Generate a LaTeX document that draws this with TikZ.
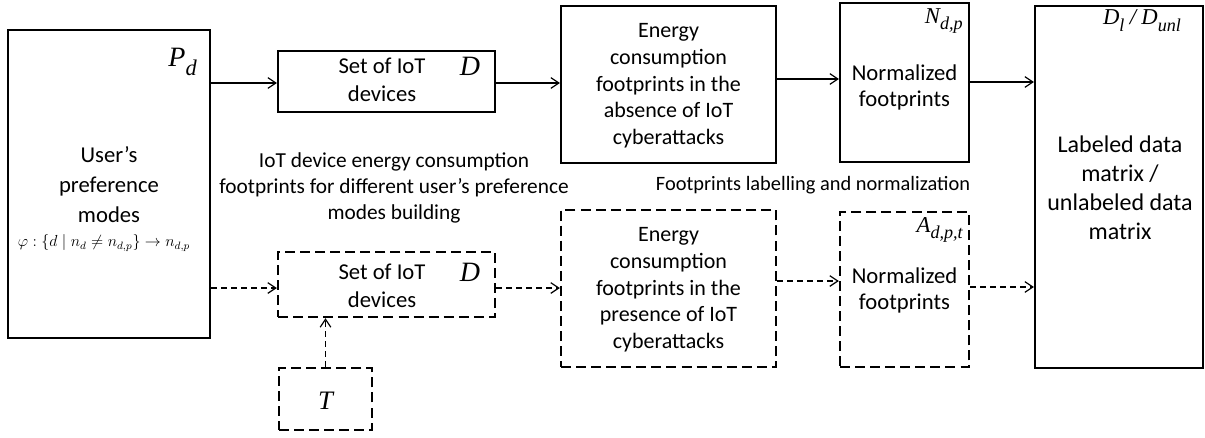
\documentclass[tikz,border=0pt]{standalone}
\usepackage{fontspec}
\setmainfont{Carlito}
\newfontfamily\tms{Liberation Serif}
\usetikzlibrary{arrows.meta}
% italic serif symbol, plain and with a lowered subscript
\newcommand\symp[2][20pt]{{\fontsize{#1}{#1}\tms\itshape #2}}
\newcommand\symb[3][20pt]{{\fontsize{#1}{#1}\tms\itshape #2\raisebox{-0.3em}{\fontsize{0.8\dimexpr#1\relax}{1em}\selectfont #3}}}
\tikzset{
  solidbox/.style={draw=black, line width=1.6pt, fill=white, inner sep=0pt},
  dashbox/.style={draw=black, line width=1.7pt, dash pattern=on 7.5pt off 3.8pt, inner sep=0pt},
  txt/.style={align=center, inner sep=0pt},
  fs/.style 2 args={font=\fontsize{#1}{#2}\selectfont},
  tip/.style={-{Straight Barb[length=6pt,width=8pt,line width=0.9pt]}},
  arr/.style={tip, line width=0.9pt},
  darr/.style={tip, line width=0.9pt, dash pattern=on 4.5pt off 3pt}
}
\begin{document}
\begin{tikzpicture}[x=0.75pt,y=-0.75pt]
\useasboundingbox (0,0) rectangle (1205,437);

% boxes
\node[solidbox, minimum width=151.5pt, minimum height=231pt] (U) at (109,184) {};
\node[solidbox, minimum width=162.75pt, minimum height=45.75pt] (S1) at (386.5,81.5) {};
\node[solidbox, minimum width=161.25pt, minimum height=117.75pt] (E1) at (668.5,84.5) {};
\node[solidbox, minimum width=96.75pt, minimum height=119.25pt] (N1) at (904.5,82.5) {};
\node[solidbox, minimum width=126pt, minimum height=271.5pt] (L) at (1119,187) {};
\node[dashbox, minimum width=162.75pt, minimum height=48.75pt] (S2) at (386.5,284.5) {};
\node[dashbox, minimum width=161.25pt, minimum height=117.75pt] (E2) at (668.5,288.5) {};
\node[dashbox, minimum width=96.75pt, minimum height=116.25pt] (N2) at (904.5,289.5) {};
\node[dashbox, minimum width=69.75pt, minimum height=46.5pt] (T) at (325.5,399) {};

% box texts
\node[txt, fs={17pt}{22.5pt}] (Ut) at (109,185) {User’s\\preference\\modes};
\node[inner sep=0pt, font=\fontsize{11.5pt}{13pt}\selectfont] (Uf) at (104,243)
  {$\varphi:\left\{d\mid n_d\neq n_{d,p}\right\}\rightarrow n_{d,p}$};
\node[inner sep=0pt, anchor=east] (Pd) at (197,62) {\symb[21pt]{P}{d}};

\node[txt, fs={17pt}{21pt}] (S1t) at (382,80) {Set of IoT\\devices};
\node[inner sep=0pt] (S1d) at (470,66) {\symp[21pt]{D}};
\node[txt, fs={16.5pt}{20pt}] (E1t) at (668.5,86) {Energy\\consumption\\footprints in the\\absence of IoT\\cyberattacks};
\node[txt, fs={17pt}{19.5pt}] (N1t) at (904.5,87) {Normalized\\footprints};
\node[inner sep=0pt, anchor=east] (N1s) at (963,21) {\symb[17pt]{N}{d,p}};
\node[txt, fs={18pt}{21.75pt}] (Lt) at (1120,188) {Labeled data\\matrix /\\unlabeled data\\matrix};
\node[inner sep=0pt] (Ls) at (1142,21) {\symb[17pt]{D}{l}\hspace{4pt}\symp[17pt]{/}\hspace{4pt}\symb[17pt]{D}{unl}};

\node[txt, fs={17pt}{21pt}] (S2t) at (382,286) {Set of IoT\\devices};
\node[inner sep=0pt] (S2d) at (470,272) {\symp[21pt]{D}};
\node[txt, fs={16.5pt}{20pt}] (E2t) at (668.5,290) {Energy\\consumption\\footprints in the\\presence of IoT\\cyberattacks};
\node[txt, fs={17pt}{19.5pt}] (N2t) at (904.5,290) {Normalized\\footprints};
\node[inner sep=0pt, anchor=east] (N2s) at (963,230) {\symb[17pt]{A}{d,p,t}};
\node[inner sep=0pt] (Tt) at (325.5,401) {\symp[20pt]{T}};

% free labels
\node[txt, fs={16pt}{19.2pt}] (lab1) at (394,188) {IoT device energy consumption\\footprints for different user’s preference\\modes building};
\node[txt, fs={15.3pt}{18pt}] (lab2) at (813,185) {Footprints labelling and normalization};

% upper (solid) path
\draw[arr] (U.east |- 0,83) -- (S1.west |- 0,83);
\draw[arr] (S1.east |- 0,83) -- (E1.west |- 0,83);
\draw[arr] (E1.east |- 0,79) -- (N1.west |- 0,79);
\draw[arr] (N1.east |- 0,82) -- (L.west |- 0,82);

% lower (dashed) path
\draw[darr] (U.east |- 0,288) -- (S2.west |- 0,288);
\draw[darr] (S2.east |- 0,288) -- (E2.west |- 0,288);
\draw[darr] (E2.east |- 0,281) -- (N2.west |- 0,281);
\draw[darr] (N2.east |- 0,287) -- (L.west |- 0,287);
\draw[darr] (T.north) -- (S2.south -| T.north);
\end{tikzpicture}
\end{document}
